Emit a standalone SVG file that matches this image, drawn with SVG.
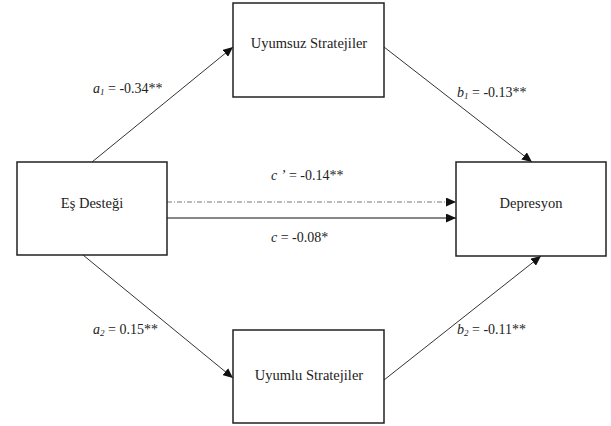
<svg xmlns="http://www.w3.org/2000/svg" width="611" height="426" viewBox="0 0 611 426" font-family="'Liberation Serif', 'Times New Roman', serif">
<style>
.box{fill:#fff;stroke:#222;stroke-width:1.5}
.nt{font-family:'Liberation Serif','Times New Roman',serif;font-size:14.5px;fill:#222;text-anchor:middle}
.lb{font-family:'Liberation Serif','Times New Roman',serif;font-size:14px;fill:#222}
.it{font-style:italic}
.sub{font-style:italic;font-size:9px}
.ln{stroke:#333;stroke-width:1;fill:none}
.dd{stroke:#777;stroke-width:1;fill:none;stroke-dasharray:5 2 1 2}
</style>
<defs>
<marker id="ah" markerUnits="userSpaceOnUse" markerWidth="10" markerHeight="9" refX="10" refY="4.5" orient="auto">
<path d="M0,0 L10,4.5 L0,9 z" fill="#111"/>
</marker>
</defs>
<g id="connectors">
<line class="ln" x1="92" y1="162" x2="233" y2="47" marker-end="url(#ah)"/>
<line class="ln" x1="384" y1="47" x2="532" y2="162" marker-end="url(#ah)"/>
<line class="dd" x1="167" y1="202" x2="456" y2="202" marker-end="url(#ah)"/>
<line class="ln" x1="167" y1="218" x2="456" y2="218" marker-end="url(#ah)" style="stroke:#111"/>
<line class="ln" x1="83" y1="255" x2="233" y2="378" marker-end="url(#ah)"/>
<line class="ln" x1="384" y1="380" x2="541" y2="256" marker-end="url(#ah)"/>
</g>
<g id="node-uyumsuz">
<rect class="box" x="233" y="3" width="151" height="94"/>
<text class="nt" x="309" y="48">Uyumsuz Stratejiler</text>
</g>
<g id="node-es">
<rect class="box" x="17" y="162" width="150" height="93"/>
<text class="nt" x="92" y="208">Eş Desteği</text>
</g>
<g id="node-depresyon">
<rect class="box" x="456" y="162" width="150" height="94"/>
<text class="nt" x="531" y="208">Depresyon</text>
</g>
<g id="node-uyumlu">
<rect class="box" x="233" y="330" width="151" height="93"/>
<text class="nt" x="309" y="380">Uyumlu Stratejiler</text>
</g>
<g id="labels">
<text class="lb" x="93" y="93"><tspan class="it">a</tspan><tspan class="sub" dy="2">1</tspan><tspan dy="-2"> = -0.34**</tspan></text>
<text class="lb" x="457" y="97"><tspan class="it">b</tspan><tspan class="sub" dy="2">1</tspan><tspan dy="-2"> = -0.13**</tspan></text>
<text class="lb" x="271" y="180"><tspan class="it">c ’</tspan> = -0.14**</text>
<text class="lb" x="271" y="242"><tspan class="it">c</tspan> = -0.08*</text>
<text class="lb" x="93" y="334"><tspan class="it">a</tspan><tspan class="sub" dy="2">2</tspan><tspan dy="-2"> = 0.15**</tspan></text>
<text class="lb" x="457" y="334"><tspan class="it">b</tspan><tspan class="sub" dy="2">2</tspan><tspan dy="-2"> = -0.11**</tspan></text>
</g>
</svg>
